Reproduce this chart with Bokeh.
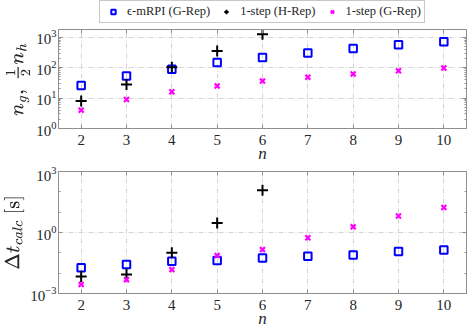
from bokeh.plotting import figure
from bokeh.models import (Range1d, FixedTicker, LogAxis, LinearAxis, Legend,
                          LegendItem)
from bokeh.layouts import column
from bokeh.embed import file_html
from bokeh.resources import INLINE

# ---------------- data ----------------
n_all = [2, 3, 4, 5, 6, 7, 8, 9, 10]
n_hrep = [2, 3, 4, 5, 6]

# complexity  n_g , 1/2 n_h
cplx_empri_g = [26, 53, 88, 146, 213, 300, 420, 565, 710]
cplx_1step_h = [8, 28, 102, 350, 1240]
cplx_1step_g = [4, 9, 16, 25, 36, 48, 62, 78, 97]

# computation time [s]
time_empri_g = [0.0185, 0.027, 0.039, 0.042, 0.056, 0.068, 0.079, 0.115, 0.138]
time_1step_h = [0.0069, 0.0087, 0.10, 2.9, 120]
time_1step_g = [0.0028, 0.0048, 0.015, 0.074, 0.144, 0.55, 1.9, 6.5, 17]

series_labels = ["\u03f5-mRPI (G-Rep)", "1-step (H-Rep)", "1-step (G-Rep)"]
ylabel_top = r"$$n_g,\ \tfrac{1}{2}n_h$$"
ylabel_bottom = r"$$\Delta t_{calc}\ [\mathrm{s}]$$"
xlabel = "n"

x_ticks = [2, 3, 4, 5, 6, 7, 8, 9, 10]
y1_ticks = [1, 10, 100, 1000]
y1_minor = [k * 10 ** d for d in range(0, 4) for k in range(2, 10)]
y2_ticks = [1e-3, 1, 1e3]
y2_minor = [1e-2, 1e-1, 10, 100]

# ---------------- style ----------------
FONT = "Liberation Serif"
AX = "#8f8f8f"
TXT = "#262626"
GRID = "#d4d4d4"
STYLES = [dict(marker="square", size=7.5, fill_color=None, line_color="#0000ff", line_width=2),
          dict(marker="cross", size=11, line_color="black", line_width=2),
          dict(marker="x", size=7, line_color="#ff00ff", line_width=2.2)]


def style_axis(ax, ticker, show_labels=True, minor=True):
    ax.ticker = ticker
    ax.axis_line_color = AX
    ax.major_tick_line_color = AX
    ax.minor_tick_line_color = AX if minor else None
    ax.major_tick_in = 4
    ax.major_tick_out = 0
    ax.minor_tick_in = 2
    ax.minor_tick_out = 0
    ax.major_label_text_font = FONT
    ax.major_label_text_font_size = "15px"
    ax.major_label_text_color = TXT
    if not show_labels:
        ax.major_label_text_font_size = "1px"
        ax.major_label_text_alpha = 0
        ax.major_label_standoff = 0


def make_fig(y_range, height, b_top, b_bottom, yt, ym, ylabel):
    p = figure(width=469, height=height,
               x_range=Range1d(1.5, 10.5), y_range=y_range,
               y_axis_type="log",
               min_border_left=50, min_border_right=3,
               min_border_top=b_top, min_border_bottom=b_bottom,
               toolbar_location=None, output_backend="svg",
               background_fill_color="white", border_fill_color="white",
               outline_line_color=AX)
    xt = FixedTicker(ticks=x_ticks, minor_ticks=[])
    xa = p.xaxis[0]
    style_axis(xa, xt, minor=False)
    xa.major_label_standoff = 6
    xa.axis_label = xlabel
    xa.axis_label_text_font = FONT
    xa.axis_label_text_font_style = "italic"
    xa.axis_label_text_font_size = "17px"
    xa.axis_label_text_color = TXT
    xa.axis_label_standoff = -4
    ya = p.yaxis[0]
    style_axis(ya, FixedTicker(ticks=yt, minor_ticks=ym))
    ya.major_label_standoff = 2
    ya.axis_label = ylabel
    ya.axis_label_text_font_size = "16px"
    ya.axis_label_text_color = TXT
    ya.axis_label_standoff = 3
    top = LinearAxis()
    style_axis(top, FixedTicker(ticks=x_ticks, minor_ticks=[]), show_labels=False, minor=False)
    right = LogAxis()
    style_axis(right, FixedTicker(ticks=yt, minor_ticks=ym), show_labels=False)
    p.add_layout(top, "above")
    p.add_layout(right, "right")
    p.xgrid.ticker = xt
    p.ygrid.ticker = FixedTicker(ticks=yt, minor_ticks=[])
    for g in (p.xgrid, p.ygrid):
        g.grid_line_color = GRID
        g.grid_line_dash = "5 2 1 2"
        g.grid_line_width = 1
    return p


# ---------------- legend strip ----------------
leg_fig = figure(width=469, height=27, x_range=Range1d(0, 1), y_range=Range1d(0, 1),
                 x_axis_location=None, y_axis_location=None, min_border=0,
                 toolbar_location=None, output_backend="svg",
                 outline_line_color=None, background_fill_color="white",
                 border_fill_color="white")
leg_fig.xgrid.visible = False
leg_fig.ygrid.visible = False
leg_items = []
for lab, st in zip(series_labels, STYLES):
    r = leg_fig.scatter(x=[-5], y=[-5], **st)   # off-range: only the legend shows it
    leg_items.append(LegendItem(label=lab, renderers=[r]))
legend = Legend(items=leg_items, orientation="horizontal", location=(41, 4), margin=0,
                padding=3, spacing=6, glyph_width=20, glyph_height=11,
                label_height=11, label_standoff=4,
                label_text_font=FONT, label_text_font_size="12.5px",
                label_text_color=TXT, border_line_color=AX,
                background_fill_color="white", background_fill_alpha=1)
leg_fig.add_layout(legend)

# ---------------- top figure ----------------
p1 = make_fig(Range1d(1, 10 ** 3.25), 139, 2, 38, y1_ticks, y1_minor, ylabel_top)
p1.scatter(n_all, cplx_empri_g, **STYLES[0])
p1.scatter(n_hrep, cplx_1step_h, **STYLES[1])
p1.scatter(n_all, cplx_1step_g, **STYLES[2])

# ---------------- bottom figure ----------------
p2 = make_fig(Range1d(1e-3, 1e3), 165, 5, 38, y2_ticks, y2_minor, ylabel_bottom)
p2.scatter(n_all, time_empri_g, **STYLES[0])
p2.scatter(n_hrep, time_1step_h, **STYLES[1])
p2.scatter(n_all, time_1step_g, **STYLES[2])

layout = column(leg_fig, p1, p2, spacing=0)

open("out.html", "w").write(file_html(layout, INLINE))
